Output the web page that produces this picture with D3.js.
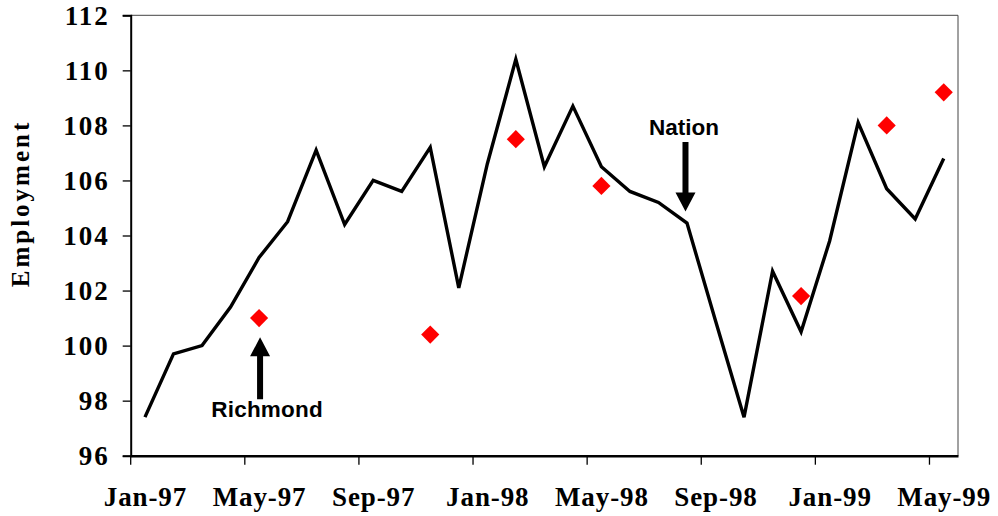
<!DOCTYPE html>
<html>
<head>
<meta charset="utf-8">
<script src="https://cdn.jsdelivr.net/npm/d3@7"></script>
<style>
  html, body { margin: 0; padding: 0; background: #fff; }
  svg { display: block; }
  .tick-lbl { font-family: "Liberation Serif", "Times New Roman", serif; font-weight: bold; font-size: 27px; fill: #000; }
  .note { font-family: "Liberation Sans", Arial, sans-serif; font-weight: bold; font-size: 22.5px; fill: #000; }
</style>
</head>
<body>
<svg id="chart" width="998" height="516"></svg>
<script>
// Monthly employment index, Jan-97 through May-99
const months = ["Jan-97","Feb-97","Mar-97","Apr-97","May-97","Jun-97","Jul-97","Aug-97","Sep-97","Oct-97","Nov-97","Dec-97",
                "Jan-98","Feb-98","Mar-98","Apr-98","May-98","Jun-98","Jul-98","Aug-98","Sep-98","Oct-98","Nov-98","Dec-98",
                "Jan-99","Feb-99","Mar-99","Apr-99","May-99"];
const nation = [97.4, 99.7, 100.0, 101.4, 103.2, 104.5, 107.1, 104.4, 106.0, 105.6, 107.2, 102.1,
                106.6, 110.4, 106.5, 108.7, 106.5, 105.6, 105.2, 104.45, 100.9, 97.4, 102.7, 100.5,
                103.8, 108.1, 105.7, 104.6, 106.8];
const richmond = [null, null, null, null, 101.0, null, null, null, null, null, 100.4, null,
                  null, 107.5, null, null, 105.8, null, null, null, null, null, null, 101.8,
                  null, null, 108.0, null, 109.2];
const xTickLabels = ["Jan-97","May-97","Sep-97","Jan-98","May-98","Sep-98","Jan-99","May-99"];
const yTicks = [96, 98, 100, 102, 104, 106, 108, 110, 112];
const yTitle = "Employment";

const svg = d3.select("#chart");
const L = 130.7, R = 958, T = 15.3, B = 455.7;

const x = d3.scaleBand().domain(months).range([L, R]).padding(0);
const y = d3.scaleLinear().domain([96, 112]).range([B, T]);
const cx = m => x(m) + x.bandwidth() / 2;

// frame: thin top and right border
svg.append("path")
  .attr("d", `M${L},${T}H${R}V${B}`)
  .attr("fill", "none").attr("stroke", "#444").attr("stroke-width", 1);

// y axis
const yAxis = svg.append("g").attr("transform", `translate(${L},0)`)
  .call(d3.axisLeft(y).tickValues(yTicks).tickSize(8).tickPadding(13).tickFormat(d3.format("d")));
yAxis.attr("font-size", null).attr("font-family", null);
yAxis.select(".domain").attr("stroke", "#000").attr("stroke-width", 2);
yAxis.selectAll(".tick line").attr("stroke", "#000").attr("stroke-width", 1.3);
yAxis.selectAll(".tick text").attr("class", "tick-lbl")
  .style("letter-spacing", "2px").attr("dy", "0.33em");

// x axis: ticks on category boundaries, labels on category centres
const xAxis = svg.append("g").attr("transform", `translate(0,${B})`)
  .call(d3.axisBottom(x).tickValues(xTickLabels).tickSize(9).tickSizeOuter(0));
xAxis.attr("font-size", null).attr("font-family", null);
xAxis.select(".domain").attr("stroke", "#000").attr("stroke-width", 2.4);
xAxis.selectAll(".tick line").attr("stroke", "#000").attr("stroke-width", 1.3)
  .attr("transform", `translate(${-x.bandwidth() / 2},0)`);
xAxis.selectAll(".tick text").attr("class", "tick-lbl")
  .style("letter-spacing", "0.9px").attr("y", 50.3).attr("dy", 0).attr("dx", "0.5px");

// y axis title
svg.append("text")
  .attr("class", "tick-lbl")
  .attr("transform", `translate(28.5,${(T + B) / 2 - 32}) rotate(-90)`)
  .attr("text-anchor", "middle")
  .style("font-size", "25px")
  .style("letter-spacing", "3px")
  .text(yTitle);

// nation line
const line = d3.line().x((d, i) => cx(months[i])).y(d => y(d));
svg.append("path")
  .datum(nation)
  .attr("d", line)
  .attr("fill", "none").attr("stroke", "#000").attr("stroke-width", 3.4)
  .attr("stroke-linejoin", "miter");

// richmond markers
const diamond = d3.symbol().type(d3.symbolSquare).size(165);
svg.selectAll(".rich")
  .data(richmond.map((v, i) => ({ m: months[i], v })).filter(d => d.v !== null))
  .join("path")
  .attr("class", "rich")
  .attr("d", diamond)
  .attr("transform", d => `translate(${cx(d.m)},${y(d.v)}) rotate(45)`)
  .attr("fill", "#ff0000");

// annotation arrows
function arrow(xPos, tipVal, tailVal) {
  const tipY = y(tipVal), tailY = y(tailVal);
  const dir = tailY > tipY ? 1 : -1;       // +1: arrow points up
  const headLen = 19, headHalf = 10, shaftHalf = 3;
  const baseY = tipY + dir * headLen;
  svg.append("path")
    .attr("d", `M${xPos},${tipY}L${xPos + headHalf},${baseY}L${xPos + shaftHalf},${baseY}` +
               `L${xPos + shaftHalf},${tailY}L${xPos - shaftHalf},${tailY}L${xPos - shaftHalf},${baseY}` +
               `L${xPos - headHalf},${baseY}Z`)
    .attr("fill", "#000");
}
arrow(cx("May-97") + 1, 100.3, 98.05);
arrow(cx("Aug-98") - 1.5, 104.87, 107.4);

svg.append("text").attr("class", "note")
  .attr("x", cx("May-97") + 8).attr("y", y(97.4)).attr("text-anchor", "middle")
  .style("letter-spacing", "0.2px")
  .text("Richmond");
svg.append("text").attr("class", "note")
  .attr("x", cx("Aug-98") - 3).attr("y", y(107.65)).attr("text-anchor", "middle")
  .text("Nation");
</script>
</body>
</html>
